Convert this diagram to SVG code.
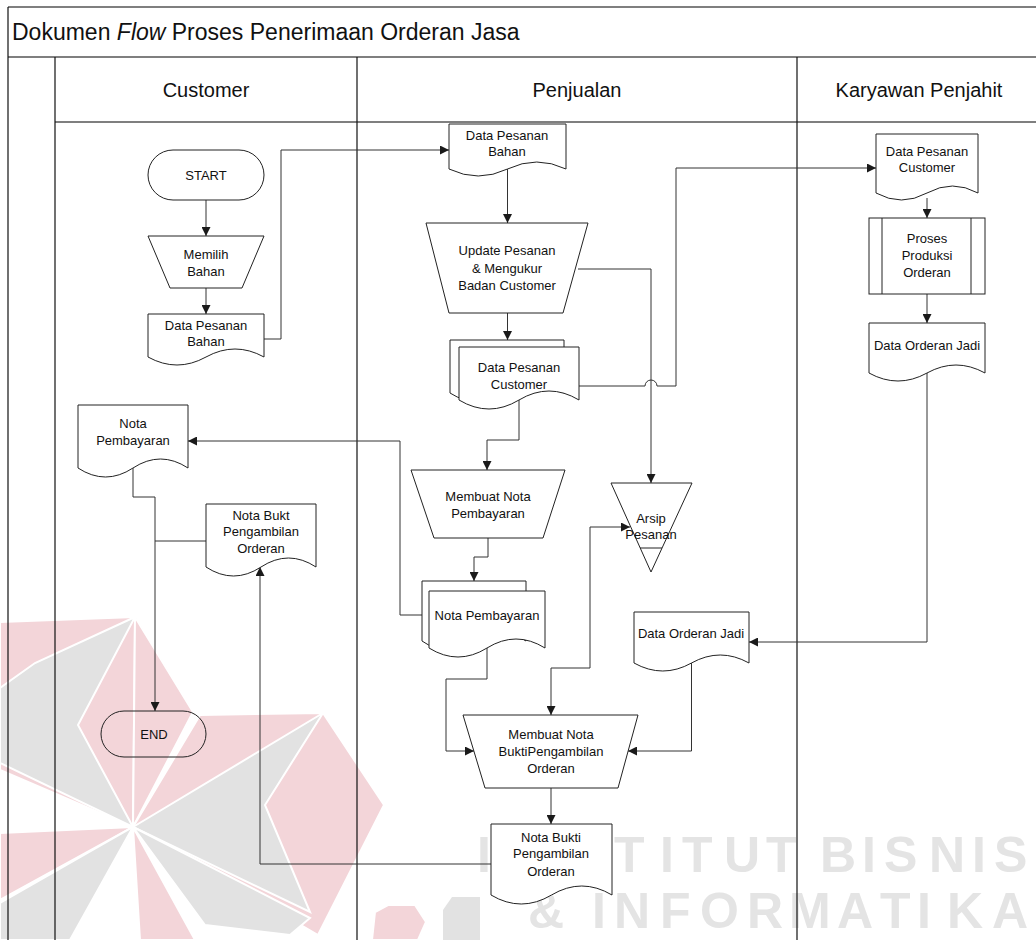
<svg xmlns="http://www.w3.org/2000/svg" width="1036" height="940" viewBox="0 0 1036 940">
<defs>
<marker id="arr" viewBox="0 0 10 10" refX="10" refY="5" markerWidth="9" markerHeight="9" markerUnits="userSpaceOnUse" orient="auto-start-reverse"><path d="M0,0 L10,5 L0,10 z" fill="#1a1a1a"/></marker>
<style>
.wm{fill:#e4e4e4;font-family:"Liberation Sans",Arial,sans-serif;font-weight:bold;font-size:50px}
.pk{fill:#f3d5d9;stroke:#fff;stroke-width:2}
.gy{fill:#e2e2e2;stroke:#fff;stroke-width:2}
.frame{stroke:#555;stroke-width:1.6;fill:none}
.lane{stroke:#111;stroke-width:1.2;fill:none}
.node{fill:#fff;stroke:#222;stroke-width:1}
.open{fill:none;stroke:#222;stroke-width:1}
.t{font-family:"Liberation Sans",Arial,sans-serif;font-size:13px;fill:#111;text-anchor:middle}
.hd{font-family:"Liberation Sans",Arial,sans-serif;font-size:20px;fill:#111;text-anchor:middle}
.ttl{font-family:"Liberation Sans",Arial,sans-serif;font-size:23px;fill:#111}
.c{fill:none;stroke:#333;stroke-width:1;marker-end:url(#arr)}
.cn{fill:none;stroke:#333;stroke-width:1}
</style>
</defs>
<rect width="1036" height="940" fill="#fff"/>
<g id="watermark">
<polygon class="pk" points="0,622 135,617 133,827 0,770"/>
<polygon class="gy" points="0,688 35,663 135,617 78,725 133,827 0,763"/>
<polygon class="pk" points="135,617 193,712 133,827"/>
<polygon class="pk" points="200,715 323,713 384,805 318,935 133,827"/>
<polygon class="gy" points="133,827 323,713 265,805 310,912"/>
<polygon class="pk" points="0,833 133,827 0,900"/>
<polygon class="gy" points="0,903 133,827 70,940 0,940"/>
<polygon class="pk" points="133,827 195,940 140,940"/>
<polygon class="gy" points="133,827 310,918 290,935 205,925"/>
<polygon class="pk" points="375,912 388,905 415,905 426,922 418,940 372,940"/>
<polygon fill="#e2e2e2" points="452,897 480,897 480,940 443,940 443,910"/>
<text class="wm" x="477" y="872">I</text>
<text class="wm" x="614 660 682 724 766 800 820 862 884 929 972 994" y="872">TITUT BISNIS</text>
<text class="wm" x="528 570 592 614 660 700 747 789 837 880 917 947 992" y="928">&amp; INFORMATIKA</text>
</g>
<g id="frame">
<line class="frame" x1="8" y1="7" x2="1036" y2="7"/>
<line class="frame" x1="8" y1="57" x2="1036" y2="57"/>
<line class="frame" x1="55" y1="122" x2="1036" y2="122"/>
<line class="lane" x1="8" y1="7" x2="8" y2="940"/>
<line class="lane" x1="55" y1="57" x2="55" y2="940"/>
<line class="lane" x1="357" y1="57" x2="357" y2="940"/>
<line class="lane" x1="797" y1="57" x2="797" y2="940"/>
<text class="ttl" x="12" y="40">Dokumen <tspan font-style="italic">Flow</tspan> Proses Penerimaan Orderan Jasa</text>
<text class="hd" x="206" y="97">Customer</text>
<text class="hd" x="577" y="97">Penjualan</text>
<text class="hd" x="919" y="97">Karyawan Penjahit</text>
</g>
<g id="connectors">
<path class="c" d="M206,200 V236"/>
<path class="c" d="M206,288 V314"/>
<path class="c" d="M264,339 H281 V150 H449"/>
<path class="c" d="M507.5,169 V223"/>
<path class="c" d="M578,269 H651 V483"/>
<path class="c" d="M507.5,313 V340"/>
<path class="c" d="M579,386 H645 A6,6 0 0 1 657,386 H676 V168 H876"/>
<path class="c" d="M927,198 V218"/>
<path class="c" d="M927,294 V323"/>
<path class="c" d="M927,373 V642 H749"/>
<path class="c" d="M691.5,663 V751 H628"/>
<path class="c" d="M519,400 V440 H487 V470"/>
<path class="c" d="M488,538 V557 H474 V581"/>
<path class="c" d="M422,615 H400 V441 H188"/>
<path class="c" d="M487,648 V679 H446 V751 H474"/>
<path class="c" d="M551,715 V668 H590 V527 H630" marker-start="url(#arr)"/>
<path class="c" d="M551,788 V824"/>
<path class="c" d="M491,864 H260 V567"/>
<path class="c" d="M133,468 V497 H155 V711"/>
<path class="cn" d="M206,541 H155"/>
</g>
<g id="start">
<rect class="node" x="148" y="150" width="116" height="50" rx="25"/>
<text class="t" x="206" y="180">START</text>
</g>
<g id="memilih-bahan">
<polygon class="node" points="148,236 264,236 242,288 170,288"/>
<text class="t" x="206" y="259">Memilih</text>
<text class="t" x="206" y="276">Bahan</text>
</g>
<g id="c-data-pesanan-bahan">
<path class="node" d="M148,314 H264 V357 Q235,341 206,357 T148,357 Z"/>
<text class="t" x="206" y="330">Data Pesanan</text>
<text class="t" x="206" y="346">Bahan</text>
</g>
<g id="c-nota-pembayaran">
<path class="node" d="M78,405 H188 V468 Q160.5,450 133,468 T78,468 Z"/>
<text class="t" x="133" y="428">Nota</text>
<text class="t" x="133" y="445">Pembayaran</text>
</g>
<g id="c-nota-bukti">
<path class="node" d="M206,504 H316 V567 Q288.5,549 261,567 T206,567 Z"/>
<text class="t" x="261" y="520">Nota Bukt</text>
<text class="t" x="261" y="536">Pengambilan</text>
<text class="t" x="261" y="553">Orderan</text>
</g>
<g id="end">
<rect class="open" x="101" y="711" width="105" height="46" rx="23"/>
<text class="t" x="154" y="739">END</text>
</g>
<g id="p-data-pesanan-bahan">
<path class="node" d="M449,124 H566 V169 Q536.75,155 507.5,169 T449,169 Z"/>
<text class="t" x="507" y="140">Data Pesanan</text>
<text class="t" x="507" y="156">Bahan</text>
</g>
<g id="update-pesanan">
<polygon class="node" points="426,223 588,223 563,313 449,313"/>
<text class="t" x="507" y="255">Update Pesanan</text>
<text class="t" x="507" y="273">&amp; Mengukur</text>
<text class="t" x="507" y="290">Badan Customer</text>
</g>
<g id="data-pesanan-customer">
<path class="node" d="M450,340 H564 V393 Q535.5,375 507,393 T450,393 Z"/>
<path class="node" d="M459,347 H579 V400 Q549,382 519,400 T459,400 Z"/>
<text class="t" x="519" y="372">Data Pesanan</text>
<text class="t" x="519" y="389">Customer</text>
</g>
<g id="membuat-nota-pembayaran">
<polygon class="node" points="411,470 565,470 543,538 434,538"/>
<text class="t" x="488" y="501">Membuat Nota</text>
<text class="t" x="488" y="518">Pembayaran</text>
</g>
<g id="p-nota-pembayaran">
<path class="node" d="M422,581 H526 V641 Q500,623 474,641 T422,641 Z"/>
<path class="node" d="M429,591 H545 V648 Q516,630 487,648 T429,648 Z"/>
<text class="t" x="487" y="620">Nota Pembayaran</text>
</g>
<g id="arsip-pesanan">
<polygon class="node" points="611,483 692,483 651,572"/>
<line class="open" x1="640" y1="548" x2="662" y2="548"/>
<text class="t" x="651" y="523">Arsip</text>
<text class="t" x="651" y="539">Pesanan</text>
</g>
<g id="p-data-orderan-jadi">
<path class="node" d="M634,612 H749 V663 Q720.25,647 691.5,663 T634,663 Z"/>
<text class="t" x="691" y="638">Data Orderan Jadi</text>
</g>
<g id="membuat-nota-bukti">
<polygon class="node" points="463,715 638,715 618,788 485,788"/>
<text class="t" x="551" y="739">Membuat Nota</text>
<text class="t" x="551" y="756">BuktiPengambilan</text>
<text class="t" x="551" y="773">Orderan</text>
</g>
<g id="p-nota-bukti">
<path class="node" d="M491,824 H612 V895 Q581.75,877 551.5,895 T491,895 Z"/>
<text class="t" x="551" y="842">Nota Bukti</text>
<text class="t" x="551" y="858">Pengambilan</text>
<text class="t" x="551" y="876">Orderan</text>
</g>
<g id="k-data-pesanan-customer">
<path class="node" d="M876,134 H978 V193 Q952.5,179 927,193 T876,193 Z"/>
<text class="t" x="927" y="156">Data Pesanan</text>
<text class="t" x="927" y="172">Customer</text>
</g>
<g id="proses-produksi">
<rect class="node" x="869" y="218" width="116" height="76"/>
<line class="open" x1="882" y1="218" x2="882" y2="294"/>
<line class="open" x1="971" y1="218" x2="971" y2="294"/>
<text class="t" x="927" y="243">Proses</text>
<text class="t" x="927" y="260">Produksi</text>
<text class="t" x="927" y="277">Orderan</text>
</g>
<g id="k-data-orderan-jadi">
<path class="node" d="M869,323 H985 V373 Q956,357 927,373 T869,373 Z"/>
<text class="t" x="927" y="350">Data Orderan Jadi</text>
</g>
</svg>
